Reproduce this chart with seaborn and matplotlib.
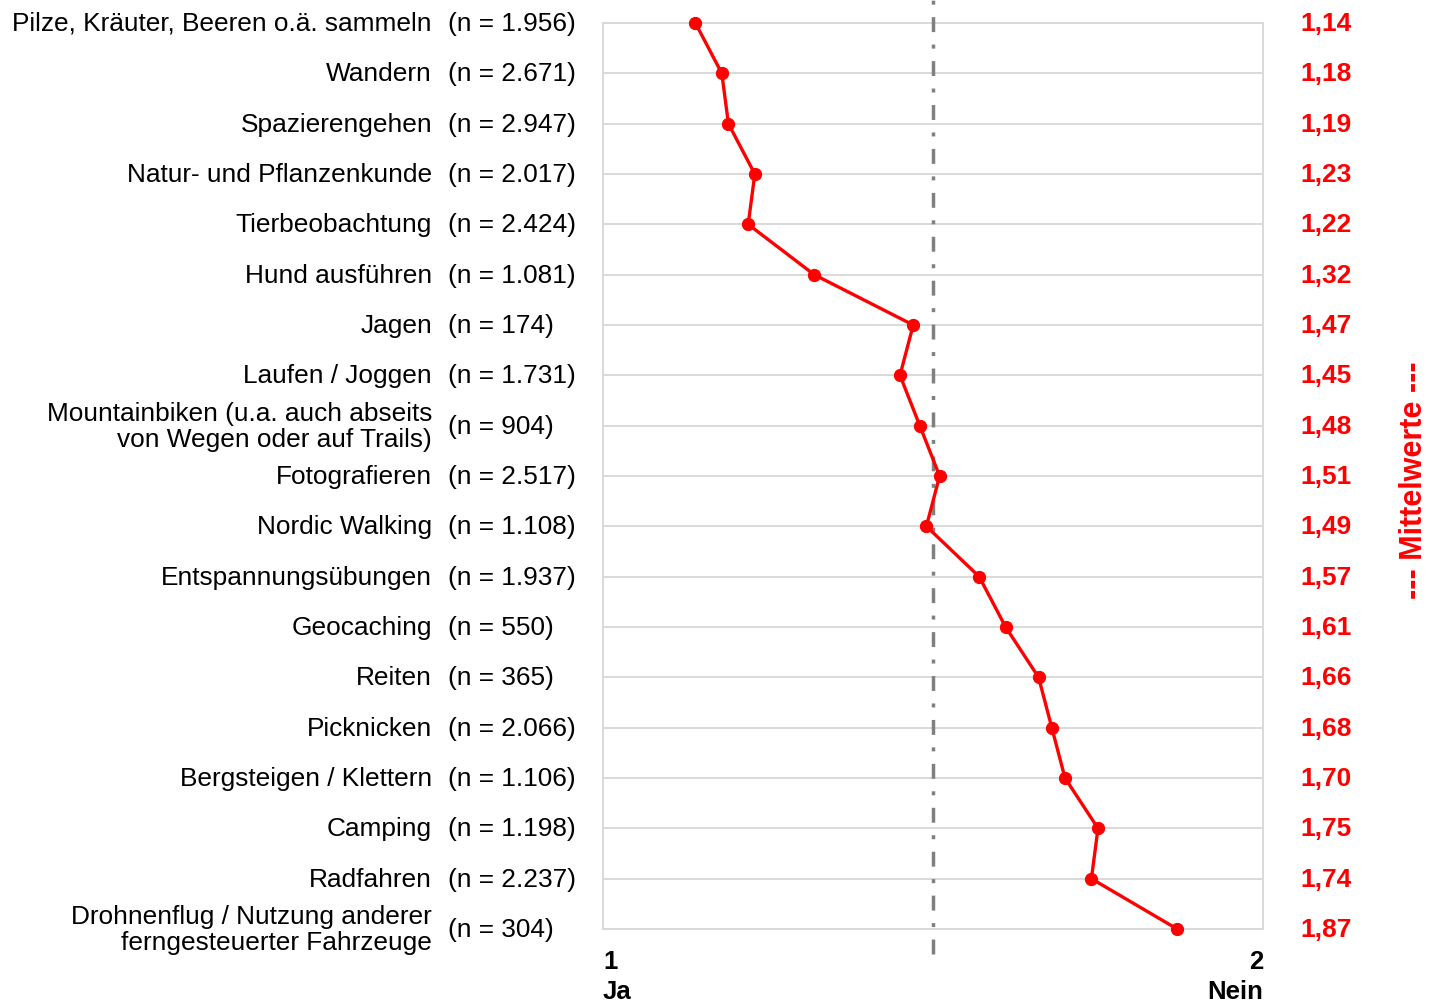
import matplotlib
matplotlib.use("Agg")
import matplotlib.pyplot as plt
import matplotlib.transforms as mtransforms
import seaborn as sns
import pandas as pd

# ---- data ----
categories = [
    "Pilze, Kräuter, Beeren o.ä. sammeln",
    "Wandern",
    "Spazierengehen",
    "Natur- und Pflanzenkunde",
    "Tierbeobachtung",
    "Hund ausführen",
    "Jagen",
    "Laufen / Joggen",
    "Mountainbiken (u.a. auch abseits\nvon Wegen oder auf Trails)",
    "Fotografieren",
    "Nordic Walking",
    "Entspannungsübungen",
    "Geocaching",
    "Reiten",
    "Picknicken",
    "Bergsteigen / Klettern",
    "Camping",
    "Radfahren",
    "Drohnenflug / Nutzung anderer\nferngesteuerter Fahrzeuge",
]
n_labels = [
    "(n = 1.956)", "(n = 2.671)", "(n = 2.947)", "(n = 2.017)", "(n = 2.424)",
    "(n = 1.081)", "(n = 174)", "(n = 1.731)", "(n = 904)", "(n = 2.517)",
    "(n = 1.108)", "(n = 1.937)", "(n = 550)", "(n = 365)", "(n = 2.066)",
    "(n = 1.106)", "(n = 1.198)", "(n = 2.237)", "(n = 304)",
]
means = [1.14, 1.18, 1.19, 1.23, 1.22, 1.32, 1.47, 1.45, 1.48, 1.51,
         1.49, 1.57, 1.61, 1.66, 1.68, 1.70, 1.75, 1.74, 1.87]
x_ticks = [1, 2]
x_tick_labels = ["1\nJa", "2\nNein"]
midpoint = 1.5
right_title = "--- Mittelwerte ---"

# ---- style ----
sns.set_style("white")
plt.rcParams["font.family"] = ["Liberation Sans", "DejaVu Sans"]

RED = "#ff0000"
GRID = "#d9d9d9"

df = pd.DataFrame({"pos": list(range(len(categories))), "mean": means})

fig = plt.figure(figsize=(14.3, 10.04), dpi=100)
ax = fig.add_axes([603 / 1430, 1 - 930 / 1004, 660 / 1430, 906 / 1004])

sns.lineplot(data=df, x="mean", y="pos", orient="y", estimator=None, sort=True,
             color=RED, linewidth=2.4, marker="o", markersize=8.8,
             markeredgecolor=RED, markerfacecolor=RED, ax=ax, zorder=5,
             clip_on=False)

ax.set_xlim(x_ticks[0], x_ticks[1])
ax.set_ylim(len(categories) - 1, 0)

# horizontal grid at every category
for p in df["pos"]:
    ax.axhline(p, color=GRID, linewidth=1.4, zorder=1)
for s in ax.spines.values():
    s.set_color(GRID)
    s.set_linewidth(1.4)

# midpoint dash-dot line extending beyond the plot area
vl = ax.axvline(midpoint, ymin=-25 / 906, ymax=1 + 24 / 906, color="#808080",
                linewidth=2.5, clip_on=False, zorder=3)
vl.set_dashes((4.3, 3.6, 1.15, 3.6))

ax.set_xticks([])
ax.set_yticks([])
ax.set_xlabel("")
ax.set_ylabel("")

FS = 18.9
trans = mtransforms.blended_transform_factory(ax.transAxes, ax.transData)
for p, name, nl, m in zip(df["pos"], categories, n_labels, means):
    ax.text((432 - 603) / 660, p, name, transform=trans, ha="right", va="center",
            fontsize=FS, color="black", linespacing=1.1)
    ax.text((448 - 603) / 660, p, nl, transform=trans, ha="left", va="center",
            fontsize=FS, color="black")
    ax.text((1300 - 603) / 660, p, f"{m:.2f}".replace(".", ","), transform=trans,
            ha="left", va="center", fontsize=19, fontweight="bold", color=RED)

# bottom axis labels
ax.text(0, -20 / 906, x_tick_labels[0], transform=ax.transAxes, ha="left", va="top",
        fontsize=18.5, fontweight="bold", color="black", linespacing=1.3)
ax.text(1, -20 / 906, x_tick_labels[1], transform=ax.transAxes, ha="right", va="top",
        fontsize=18.5, fontweight="bold", color="black", linespacing=1.3,
        multialignment="right")

# right vertical title
ax.text((1414 - 603) / 660, 1 - (480 - 24) / 906, right_title, transform=ax.transAxes,
        rotation=90, ha="center", va="center", fontsize=22, fontweight="bold",
        color=RED)

fig.savefig("out.png", dpi=100)
